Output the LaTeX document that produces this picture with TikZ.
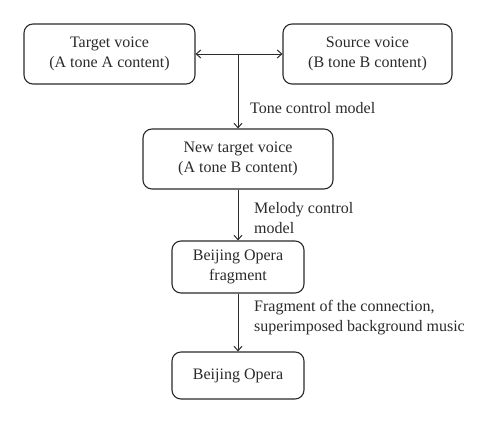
\documentclass[tikz,border=0pt]{standalone}
\usepackage{fontspec}
\setmainfont{Liberation Serif}
\usetikzlibrary{arrows.meta}
\definecolor{ink}{HTML}{2B2B2B}
\begin{document}
\begin{tikzpicture}[x=1pt,y=-1pt,
  box/.style={draw=ink,line width=1.1pt,rounded corners=9pt,align=center,
    font=\fontsize{16}{20}\selectfont,text=ink,inner sep=0pt},
  lbl/.style={align=left,font=\fontsize{16}{20}\selectfont,text=ink,inner sep=0pt,anchor=west},
  tip/.tip={Straight Barb[length=4.5pt,width=8pt]},
  conn/.style={draw=ink,line width=1pt,-tip}]
\useasboundingbox[fill=white] (0,0) rectangle (500,423);
\node[box,minimum width=171pt,minimum height=60pt] (target) at (109.5,54) {Target voice\\(A tone A content)};
\node[box,minimum width=169pt,minimum height=60pt] (source) at (367.5,54) {Source voice\\(B tone B content)};
\node[box,minimum width=190pt,minimum height=60pt] (new) at (238,159) {New target voice\\(A tone B content)};
\node[box,minimum width=132pt,minimum height=52pt] (frag) at (238,267) {Beijing Opera\\fragment};
\node[box,minimum width=132pt,minimum height=47pt] (opera) at (238,375.5) {Beijing Opera};
\coordinate (j) at (238,54);
\draw[conn,tip-tip] (target.east) -- (source.west);
\draw[conn] (j) -- (new.north);
\draw[conn] (new.south) -- (frag.north);
\draw[conn] (frag.south) -- (opera.north);
\node[lbl] (l1) at (250,108) {Tone control model};
\node[lbl] (l2) at (254,218) {Melody control\\model};
\node[lbl] (l3) at (254,318) {Fragment of the connection,\\superimposed background music};
\end{tikzpicture}
\end{document}
